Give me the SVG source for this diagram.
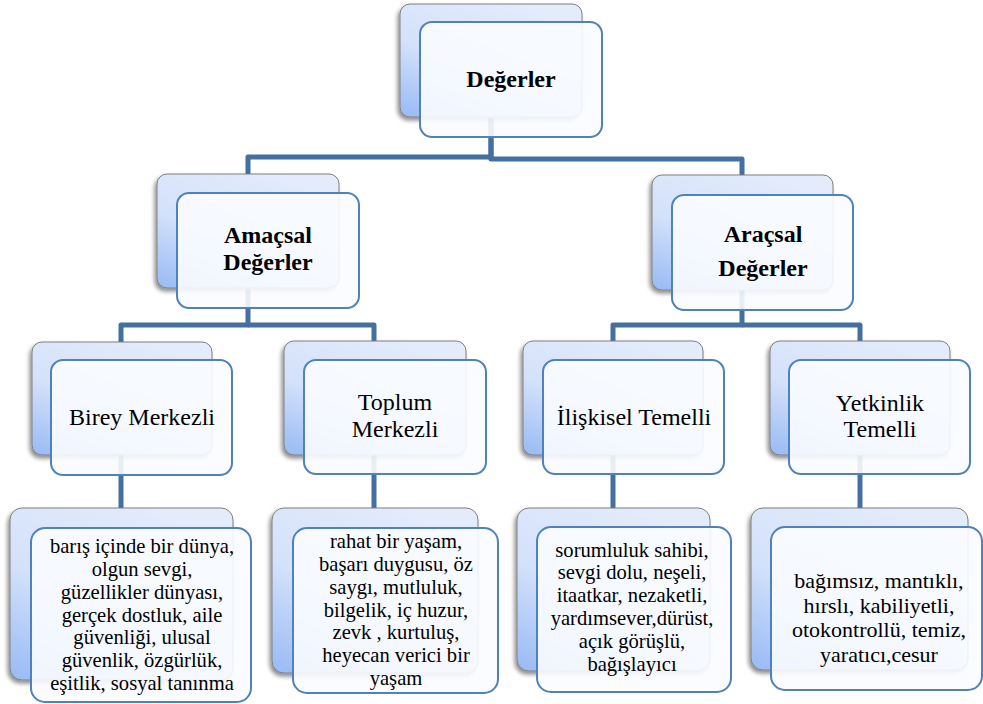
<svg xmlns="http://www.w3.org/2000/svg" width="983" height="704" viewBox="0 0 983 704">
<defs>
<linearGradient id="bg" x1="0.7" y1="0" x2="0.1" y2="1">
<stop offset="0" stop-color="#E4ECFC"/>
<stop offset="0.55" stop-color="#D3E1FA"/>
<stop offset="1" stop-color="#9DBDF5"/>
</linearGradient>
<filter id="sh" x="-10%" y="-10%" width="120%" height="125%">
<feDropShadow dx="-2" dy="3" stdDeviation="2" flood-color="#000" flood-opacity="0.45"/>
</filter>
</defs>
<style>
.back{fill:url(#bg);stroke:#7F7F7F;stroke-width:1;filter:url(#sh)}
.front{fill:#FAFCFF;fill-opacity:0.9;stroke:#4F81BD;stroke-width:2}
.con{fill:none;stroke:#43709F;stroke-width:5;stroke-linejoin:round}
text{font-family:"Liberation Serif","Times New Roman",serif;fill:#000;text-anchor:middle}
.b{font-weight:bold;font-size:24px}
.m{font-size:24px}
.l{font-size:20.6px}
.y{font-size:22px}
</style>
<rect width="983" height="704" fill="#fff"/>
<g id="connectors">
<path class="con" d="M491,118 V157 H248 V190"/>
<path class="con" d="M491,118 V159 H742 V190"/>
<path class="con" d="M248,288 V325 H121 V350"/>
<path class="con" d="M248,325 H374 V350"/>
<path class="con" d="M742,290 V325 H613 V350"/>
<path class="con" d="M742,325 H860 V350"/>
<path class="con" d="M121,455 V515"/>
<path class="con" d="M374,455 V515"/>
<path class="con" d="M613,455 V515"/>
<path class="con" d="M860,455 V515"/>
</g>
<g id="degerler">
<rect class="back" x="400" y="4" width="182" height="113" rx="10"/>
<rect class="front" x="420" y="22" width="182" height="115" rx="12"/>
<text class="b" x="511" y="87">Değerler</text>
</g>
<g id="amacsal">
<rect class="back" x="157" y="174" width="182" height="114" rx="10"/>
<rect class="front" x="177" y="193" width="182" height="115" rx="12"/>
<text class="b" x="268" y="243.2">Amaçsal<tspan x="268" dy="26.7">Değerler</tspan></text>
</g>
<g id="aracsal">
<rect class="back" x="652" y="175" width="181" height="115" rx="10"/>
<rect class="front" x="672" y="195" width="181" height="115" rx="12"/>
<text class="b" x="763" y="242">Araçsal<tspan x="763" dy="34">Değerler</tspan></text>
</g>
<g id="birey">
<rect class="back" x="32" y="342" width="180" height="113" rx="10"/>
<rect class="front" x="51" y="360" width="181" height="115" rx="12"/>
<text class="m" x="142" y="425">Birey Merkezli</text>
</g>
<g id="toplum">
<rect class="back" x="284" y="341" width="182" height="114" rx="10"/>
<rect class="front" x="304" y="360" width="182" height="114" rx="12"/>
<text class="m" x="395" y="410.2">Toplum<tspan x="395" dy="26.7">Merkezli</tspan></text>
</g>
<g id="iliskisel">
<rect class="back" x="523" y="341" width="180" height="114" rx="10"/>
<rect class="front" x="543" y="360" width="181" height="114" rx="12"/>
<text class="m" x="634" y="425">İlişkisel Temelli</text>
</g>
<g id="yetkinlik">
<rect class="back" x="770" y="341" width="180" height="114" rx="10"/>
<rect class="front" x="789" y="360" width="181" height="114" rx="12"/>
<text class="m" x="880" y="410.7">Yetkinlik<tspan x="880" dy="26.7">Temelli</tspan></text>
</g>
<g id="birey-list">
<rect class="back" x="10" y="508" width="223" height="172" rx="12"/>
<rect class="front" x="31" y="528" width="220" height="174" rx="14"/>
<text class="l" x="142" y="553.1">barış içinde bir dünya,<tspan x="142" dy="22.8">olgun sevgi,</tspan><tspan x="142" dy="22.8">güzellikler dünyası,</tspan><tspan x="142" dy="22.8">gerçek dostluk, aile</tspan><tspan x="142" dy="22.8">güvenliği, ulusal</tspan><tspan x="142" dy="22.8">güvenlik, özgürlük,</tspan><tspan x="142" dy="22.8">eşitlik, sosyal tanınma</tspan></text>
</g>
<g id="toplum-list">
<rect class="back" x="272" y="508" width="206" height="165" rx="12"/>
<rect class="front" x="293" y="528" width="205" height="165" rx="14"/>
<text class="l" x="396" y="548.1">rahat bir yaşam,<tspan x="396" dy="22.8">başarı duygusu, öz</tspan><tspan x="396" dy="22.8">saygı, mutluluk,</tspan><tspan x="396" dy="22.8">bilgelik, iç huzur,</tspan><tspan x="396" dy="22.8">zevk , kurtuluş,</tspan><tspan x="396" dy="22.8">heyecan verici bir</tspan><tspan x="396" dy="22.8">yaşam</tspan></text>
</g>
<g id="iliskisel-list">
<rect class="back" x="517" y="508" width="193" height="163" rx="12"/>
<rect class="front" x="537" y="527" width="194" height="165" rx="14"/>
<text class="l" x="632" y="556.5">sorumluluk sahibi,<tspan x="632" dy="22.8">sevgi dolu, neşeli,</tspan><tspan x="632" dy="22.8">itaatkar, nezaketli,</tspan><tspan x="632" dy="22.8">yardımsever,dürüst,</tspan><tspan x="632" dy="22.8">açık görüşlü,</tspan><tspan x="632" dy="22.8">bağışlayıcı</tspan></text>
</g>
<g id="yetkinlik-list">
<rect class="back" x="751" y="508" width="217" height="162" rx="12"/>
<rect class="front" x="771" y="527" width="211" height="163" rx="14"/>
<text class="y" x="879" y="588.4">bağımsız, mantıklı,<tspan x="879" dy="24.4">hırslı, kabiliyetli,</tspan><tspan x="879" dy="24.4">otokontrollü, temiz,</tspan><tspan x="879" dy="24.4">yaratıcı,cesur</tspan></text>
</g>
</svg>
